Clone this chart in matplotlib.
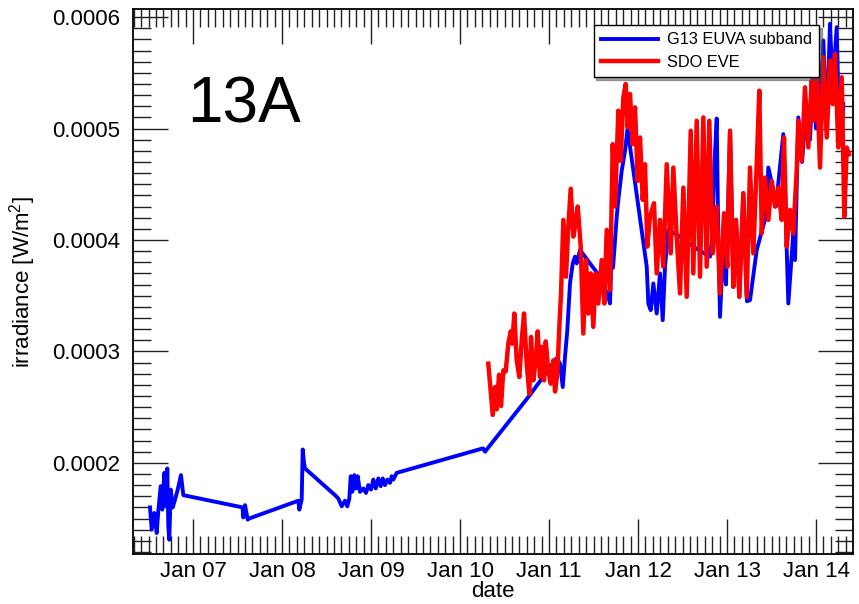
import datetime as dt
import matplotlib
matplotlib.use("Agg")
import matplotlib.pyplot as plt
import matplotlib.dates as mdates
from matplotlib.ticker import MultipleLocator, FormatStrFormatter

plt.rcParams['font.family'] = ['Liberation Sans', 'DejaVu Sans']
plt.rcParams['mathtext.fontset'] = 'custom'
plt.rcParams['mathtext.rm'] = 'Liberation Sans'
plt.rcParams['mathtext.it'] = 'Liberation Sans'

# time in hours since 2014-01-06 00:00 ; irradiance in units of 1e-4 W/m^2
SCALE = 1e-4
g13_hours = [12.40, 12.86, 13.56, 14.21, 14.64, 15.29, 15.72, 16.26, 16.64, 17.07,
             17.34, 17.61, 17.99, 18.53, 19.15, 19.87, 20.76, 21.38,
             37.35, 37.56, 38.02, 38.75, 39.10,
             52.40, 52.67, 53.31, 53.58, 53.93, 54.20,
             62.29, 63.18, 64.10, 64.99, 65.61, 66.15, 66.53, 66.96, 67.50, 67.95,
             68.41, 69.03, 69.92, 70.65, 71.27, 72.00, 72.62, 73.27, 73.97, 74.61,
             75.16, 75.78, 76.39, 77.12, 77.58, 78.01, 78.93,
             102.20, 102.74, 114.88, 122.08,
             122.97, 123.70, 124.31, 124.93, 125.66, 126.39, 127.01, 127.47, 128.36,
             133.75, 135.99, 136.45, 136.91, 137.26, 138.26, 138.69, 139.60, 140.49, 141.17,
             146.35, 146.78, 147.43, 148.13, 149.04, 149.93, 150.66, 151.28, 152.17,
             155.33, 158.91, 163.41, 163.96, 164.49, 165.22, 165.57, 166.11, 166.92,
             167.73, 168.81, 169.70, 170.43, 171.32, 172.39, 173.39, 174.20,
             176.01, 178.70, 179.14, 180.16, 181.19, 183.18, 184.53, 185.87, 186.34,
             187.23, 188.22, 189.49, 190.38, 191.19, 191.99, 192.62, 193.35, 193.97,
             194.89, 195.77, 196.50, 197.58, 198.28, 198.74, 199.36]
g13_vals = [1.60, 1.40, 1.55, 1.37, 1.57, 1.79, 1.58, 1.91, 1.61, 1.95,
            1.43, 1.31, 1.76, 1.60, 1.67, 1.76, 1.89, 1.71,
            1.60, 1.51, 1.62, 1.49, 1.50,
            1.66, 1.58, 1.67, 2.12, 2.00, 1.95,
            1.71, 1.68, 1.61, 1.66, 1.61, 1.68, 1.88, 1.74, 1.89, 1.77,
            1.88, 1.74, 1.77, 1.73, 1.80, 1.76, 1.85, 1.77, 1.86, 1.79,
            1.86, 1.80, 1.85, 1.82, 1.88, 1.85, 1.91,
            2.13, 2.10, 2.61, 2.94,
            2.89, 2.68, 2.95, 3.19, 3.61, 3.79, 3.85, 3.79, 3.91,
            3.67, 3.49, 3.43, 3.91, 3.75, 4.21, 4.36, 4.62, 4.80, 5.00,
            3.76, 3.43, 3.37, 3.61, 3.34, 3.70, 3.28, 3.76, 4.09,
            4.03, 3.94, 3.85, 4.00, 4.60, 5.09, 4.20, 3.31, 3.90,
            3.60, 4.98, 3.58, 4.18, 3.49, 4.42, 3.45, 3.46,
            3.91, 4.24, 4.65, 4.50, 4.30, 4.95, 3.43, 4.06, 3.82,
            5.10, 4.70, 5.22, 4.90, 5.50, 5.00, 5.61, 5.00, 5.79,
            5.00, 5.94, 5.37, 5.91, 4.92, 4.86, 5.22]

eve_hours = [103.63, 104.82, 105.44, 105.90, 106.52, 107.06, 107.68, 108.32, 109.02, 109.67,
             110.10, 110.64, 111.29, 111.99, 112.64, 113.26, 113.98, 114.69, 115.15, 115.77,
             116.41, 116.95, 117.57, 118.03, 118.65, 119.11, 119.81, 120.46, 121.16, 121.62,
             122.24, 122.78, 123.24, 123.86, 124.58, 125.20, 125.85, 126.55, 127.01, 127.74,
             128.55, 129.25, 129.98, 130.60, 131.25, 131.95, 132.59, 133.29, 134.21, 134.91,
             135.56, 136.45, 137.18, 137.80, 138.69, 139.33, 140.04, 140.68, 141.22, 141.84,
             142.57, 143.19, 143.92, 144.54, 145.27, 145.89, 146.51, 147.23, 148.31, 149.04,
             149.93, 150.82, 151.74, 152.82, 153.52, 154.43, 155.33, 156.22, 157.13, 158.21,
             158.91, 159.83, 160.72, 161.61, 162.52, 163.22, 164.14, 165.22, 166.11, 167.19,
             168.08, 168.81, 169.70, 170.43, 171.32, 172.39, 173.31, 174.20, 175.09, 176.01,
             176.71, 177.36, 178.25, 179.14, 180.05, 180.94, 181.83, 182.75, 183.37, 184.10,
             184.99, 185.87, 186.79, 187.23, 188.14, 189.03, 189.92, 190.84, 191.46, 192.18,
             193.08, 193.97, 194.89, 195.77, 196.50, 197.12, 198.01, 198.93, 199.63, 200.28,
             200.90]
eve_vals = [2.89, 2.43, 2.68, 2.48, 2.79, 2.51, 2.83, 2.82, 3.07, 3.18,
            3.07, 3.34, 2.92, 2.77, 3.10, 3.34, 2.89, 2.62, 3.13, 2.74,
            2.92, 3.18, 2.77, 3.04, 2.74, 3.09, 2.83, 2.71, 2.92, 2.64,
            2.80, 3.22, 3.52, 4.18, 3.67, 4.12, 4.46, 4.03, 4.12, 4.30,
            3.94, 3.16, 3.82, 3.34, 3.70, 3.22, 3.70, 3.43, 3.82, 3.43,
            4.09, 3.55, 4.86, 4.30, 5.16, 4.71, 5.28, 5.40, 5.01, 5.31,
            4.86, 5.19, 4.53, 4.92, 4.36, 4.68, 3.94, 4.21, 4.33, 3.70,
            4.18, 3.76, 4.68, 3.88, 4.65, 4.03, 3.52, 4.47, 3.49, 4.98,
            3.70, 5.07, 3.67, 5.10, 3.76, 5.07, 3.88, 4.30, 3.52, 4.24,
            3.76, 4.98, 3.58, 4.18, 3.49, 4.42, 3.49, 4.65, 3.88, 4.68,
            5.34, 4.06, 4.56, 4.18, 4.53, 4.30, 4.47, 4.18, 4.92, 3.94,
            4.27, 4.06, 4.62, 5.07, 4.71, 5.37, 4.83, 5.43, 5.07, 5.52,
            4.65, 5.64, 4.92, 5.61, 5.22, 5.67, 4.83, 5.46, 4.21, 4.83,
            4.77]

series_labels = ['G13 EUVA subband', 'SDO EVE']
panel_label = '13A'

base = dt.datetime(2014, 1, 6)
def to_dates(hours):
    return [base + dt.timedelta(hours=h) for h in hours]

fig = plt.figure(figsize=(8.59, 6.04), dpi=100)
ax = fig.add_axes([0.1545, 0.0828, 0.8382, 0.9018])

ax.plot(to_dates(g13_hours), [v * SCALE for v in g13_vals], color='#0000ff', lw=2.8,
        label=series_labels[0])
ax.plot(to_dates(eve_hours), [v * SCALE for v in eve_vals], color='#ff0000', lw=3.2,
        label=series_labels[1])

ax.set_xlim(base + dt.timedelta(hours=7.74), base + dt.timedelta(hours=201.9))
ax.set_ylim(1.182e-4, 6.07e-4)

ax.xaxis.set_major_locator(mdates.DayLocator())
ax.xaxis.set_minor_locator(mdates.HourLocator(byhour=range(0, 24, 2)))
ax.xaxis.set_major_formatter(mdates.DateFormatter('Jan %d'))
ax.yaxis.set_major_locator(MultipleLocator(1e-4))
ax.yaxis.set_minor_locator(MultipleLocator(1e-5))
ax.yaxis.set_major_formatter(FormatStrFormatter('%.4f'))

ax.tick_params(which='both', direction='in', top=True, right=True, labelsize=16,
               color='#222222')
ax.tick_params(which='major', length=25, width=1.0)
ax.tick_params(which='minor', length=13, width=1.0)
ax.tick_params(axis='x', which='major', pad=5)
ax.tick_params(axis='y', which='major', pad=9)
for s in ax.spines.values():
    s.set_linewidth(1.3)

ax.set_xlabel('date', fontsize=16, labelpad=-1)
ax.set_ylabel('irradiance [W/m$^2$]', fontsize=16, labelpad=10)

fig.text(0.2177, 0.798, panel_label, fontsize=46, ha='left', va='baseline')

leg = ax.legend(loc='upper right', bbox_to_anchor=(819 / 859, 1 - 25 / 604),
                bbox_transform=fig.transFigure, borderaxespad=0, fontsize=11.8,
                frameon=True, fancybox=False, shadow=True, edgecolor='black',
                framealpha=1, handlelength=3.5, handletextpad=0.5,
                borderpad=0.45, labelspacing=0.45)
leg.get_frame().set_linewidth(1.0)

fig.savefig('out.png', dpi=100)
